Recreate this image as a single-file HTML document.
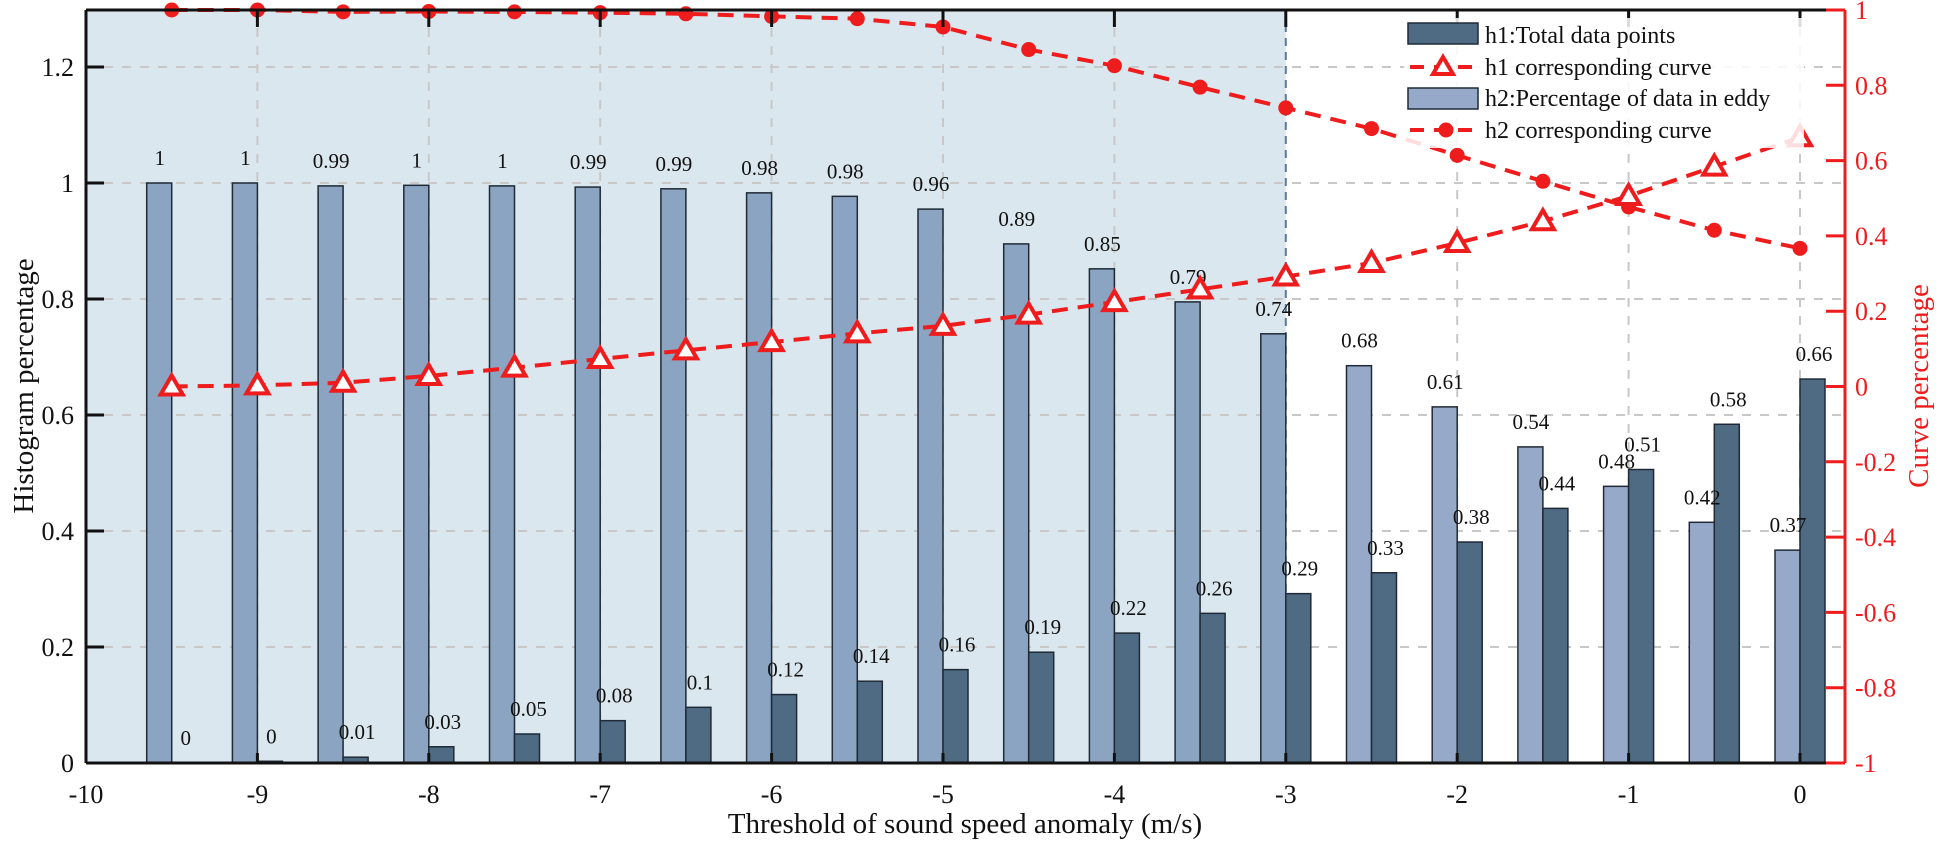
<!DOCTYPE html>
<html><head><meta charset="utf-8"><style>
body{margin:0;background:#fff}
svg{display:block;font-family:"Liberation Serif",serif}
</style></head><body>
<svg id="chart" width="1949" height="848" viewBox="0 0 1949 848" xmlns="http://www.w3.org/2000/svg"></svg>
<script>
const categories=[-9.5,-9,-8.5,-8,-7.5,-7,-6.5,-6,-5.5,-5,-4.5,-4,-3.5,-3,-2.5,-2,-1.5,-1,-0.5,0];
const h2Values=[1,1,0.995,0.996,0.995,0.993,0.99,0.983,0.977,0.955,0.895,0.852,0.795,0.74,0.685,0.614,0.545,0.477,0.415,0.367];
const h1Values=[0,0.003,0.01,0.028,0.05,0.073,0.096,0.118,0.141,0.161,0.191,0.224,0.258,0.292,0.328,0.381,0.439,0.506,0.584,0.662];
const h2Labels=["1","1","0.99","1","1","0.99","0.99","0.98","0.98","0.96","0.89","0.85","0.79","0.74","0.68","0.61","0.54","0.48","0.42","0.37"];
const h1Labels=["0","0","0.01","0.03","0.05","0.08","0.1","0.12","0.14","0.16","0.19","0.22","0.26","0.29","0.33","0.38","0.44","0.51","0.58","0.66"];
const h1Curve=[0,0.003,0.01,0.028,0.05,0.073,0.096,0.118,0.141,0.161,0.191,0.224,0.258,0.292,0.328,0.381,0.439,0.506,0.584,0.662];
const h2Curve=[1,1,0.995,0.996,0.995,0.993,0.99,0.983,0.977,0.955,0.895,0.852,0.795,0.74,0.685,0.614,0.545,0.477,0.415,0.367];
const xTicks=[-10,-9,-8,-7,-6,-5,-4,-3,-2,-1,0];
const yLeftTicks=[0,0.2,0.4,0.6,0.8,1,1.2];
const yRightTicks=[-1,-0.8,-0.6,-0.4,-0.2,0,0.2,0.4,0.6,0.8,1];

const NS="http://www.w3.org/2000/svg";
const svg=document.getElementById('chart');
const L=86,R=1845,T=10,B=763;
const X=v=>86+(v+10)*171.4;
const YL=v=>763-v*580;
const YR=v=>386.5-v*376.5;
function el(tag,attrs,parent){const e=document.createElementNS(NS,tag);for(const k in attrs)e.setAttribute(k,attrs[k]);(parent||svg).appendChild(e);return e;}
function txt(s,attrs,parent){const e=el('text',attrs,parent);e.textContent=s;return e;}

// shaded region
const shade=el('rect',{x:L,y:T,width:X(-3)-L,height:B-T,fill:'#dbe7ee'});



// grid
const grid=el('g',{stroke:'#c8c8c8','stroke-width':2,'stroke-dasharray':'9,9'});


xTicks.forEach(t=>{if(t>-10&&t!==-3)el('line',{x1:X(t),x2:X(t),y1:T,y2:B},grid);});
yLeftTicks.forEach(t=>{if(t>0)el('line',{x1:L,x2:R,y1:YL(t),y2:YL(t)},grid);});
const sep=el('line',{x1:X(-3),x2:X(-3),y1:T,y2:B,stroke:'#5c7b9b','stroke-width':2,'stroke-dasharray':'8,6'});



// bars
categories.forEach((c,i)=>{
  const cx=X(c);
  const inShade=c<=-3;
  const b2=el('rect',{x:cx-25,y:YL(h2Values[i]),width:25,height:YL(0)-YL(h2Values[i]),fill:inShade?'#8aa4c2':'#97a9c9',stroke:'#1f2a36','stroke-width':1.5});
  
  
  const b1=el('rect',{x:cx,y:YL(h1Values[i]),width:25,height:YL(0)-YL(h1Values[i]),fill:'#4f6b84',stroke:'#1f2a36','stroke-width':1.5});
  
  
  const t2=txt(h2Labels[i],{x:cx-12,y:YL(h2Values[i])-18,'font-size':21,'text-anchor':'middle',fill:'#111'});
  
  
  const t1=txt(h1Labels[i],{x:cx+14,y:YL(h1Values[i])-18,'font-size':21,'text-anchor':'middle',fill:'#111'});
  
  
});

// curves
function curve(vals,name,marker){
  const g=el('g',{});
  
  
  el('polyline',{points:categories.map((c,i)=>X(c)+','+YR(vals[i])).join(' '),fill:'none',stroke:'#ee1c1c','stroke-width':4,'stroke-dasharray':'16,10'},g);
  categories.forEach((c,i)=>{
    const x=X(c),y=YR(vals[i]);
    let m;
    if(marker==='tri') m=el('polygon',{points:`${x},${y-11} ${x+11},${y+8} ${x-11},${y+8}`,fill:'#fff',stroke:'#ee1c1c','stroke-width':4},g);
    else m=el('circle',{cx:x,cy:y,r:7.5,fill:'#ee1c1c'},g);
    
    
  });
}
curve(h2Curve,'h2-curve','circ');
curve(h1Curve,'h1-curve','tri');

// axes
const ax=el('g',{stroke:'#111','stroke-width':3});


el('line',{x1:L,x2:L,y1:T,y2:B},ax);
el('line',{x1:L,x2:R,y1:B,y2:B},ax);
el('line',{x1:L,x2:R,y1:T,y2:T},ax);
el('line',{x1:R,x2:R,y1:T,y2:B,stroke:'#ee1c1c'},ax);
xTicks.forEach(t=>{
  el('line',{x1:X(t),x2:X(t),y1:B,y2:B-10},ax);
  el('line',{x1:X(t),x2:X(t),y1:T,y2:T+17},ax);
  const l=txt(String(t),{x:X(t),y:B+40,'font-size':26,'text-anchor':'middle',fill:'#111',stroke:'none'});
  
  
});
yLeftTicks.forEach(t=>{
  el('line',{x1:L,x2:L+18,y1:YL(t),y2:YL(t)},ax);
  const l=txt(String(t),{x:L-12,y:YL(t)+9,'font-size':26,'text-anchor':'end',fill:'#111',stroke:'none'});
  
  
});
yRightTicks.forEach(t=>{
  el('line',{x1:R,x2:R-19,y1:YR(t),y2:YR(t),stroke:'#ee1c1c'},ax);
  const l=txt(String(t),{x:R+10,y:YR(t)+9,'font-size':26,fill:'#ee1c1c',stroke:'none'});
  
  
});
</script>
<svg style="position:absolute;left:0;top:0" width="1949" height="848" xmlns="http://www.w3.org/2000/svg" font-family="Liberation Serif, serif">
  <text x="965" y="833" font-size="29" text-anchor="middle" fill="#111">Threshold of sound speed anomaly (m/s)</text>
  <text transform="translate(33,386) rotate(-90)" font-size="29" text-anchor="middle" fill="#111">Histogram percentage</text>
  <text transform="translate(1928,386) rotate(-90)" font-size="29" text-anchor="middle" fill="#ee1c1c">Curve percentage</text>
  <g>
    <rect x="1404" y="18" width="400" height="130" fill="#fff" opacity="0.85"/>
    <g>
      <rect x="1408" y="23" width="70" height="21" fill="#4f6b84" stroke="#1f2a36" stroke-width="1.5"/>
      <text x="1485" y="43" font-size="24" fill="#111">h1:Total data points</text>
    </g>
    <g>
      <line x1="1410" x2="1478" y1="67" y2="67" stroke="#ee1c1c" stroke-width="4" stroke-dasharray="14,10"/>
      <polygon points="1443,57 1453,74 1433,74" fill="#fff" stroke="#ee1c1c" stroke-width="4"/>
      <text x="1485" y="75" font-size="24" fill="#111">h1 corresponding curve</text>
    </g>
    <g>
      <rect x="1408" y="88" width="70" height="21" fill="#97a9c9" stroke="#1f2a36" stroke-width="1.5"/>
      <text x="1485" y="106" font-size="24" fill="#111">h2:Percentage of data in eddy</text>
    </g>
    <g>
      <line x1="1410" x2="1478" y1="130" y2="130" stroke="#ee1c1c" stroke-width="4" stroke-dasharray="14,10"/>
      <circle cx="1446" cy="130" r="7.5" fill="#ee1c1c"/>
      <text x="1485" y="138" font-size="24" fill="#111">h2 corresponding curve</text>
    </g>
  </g>
</svg>
</body></html>
